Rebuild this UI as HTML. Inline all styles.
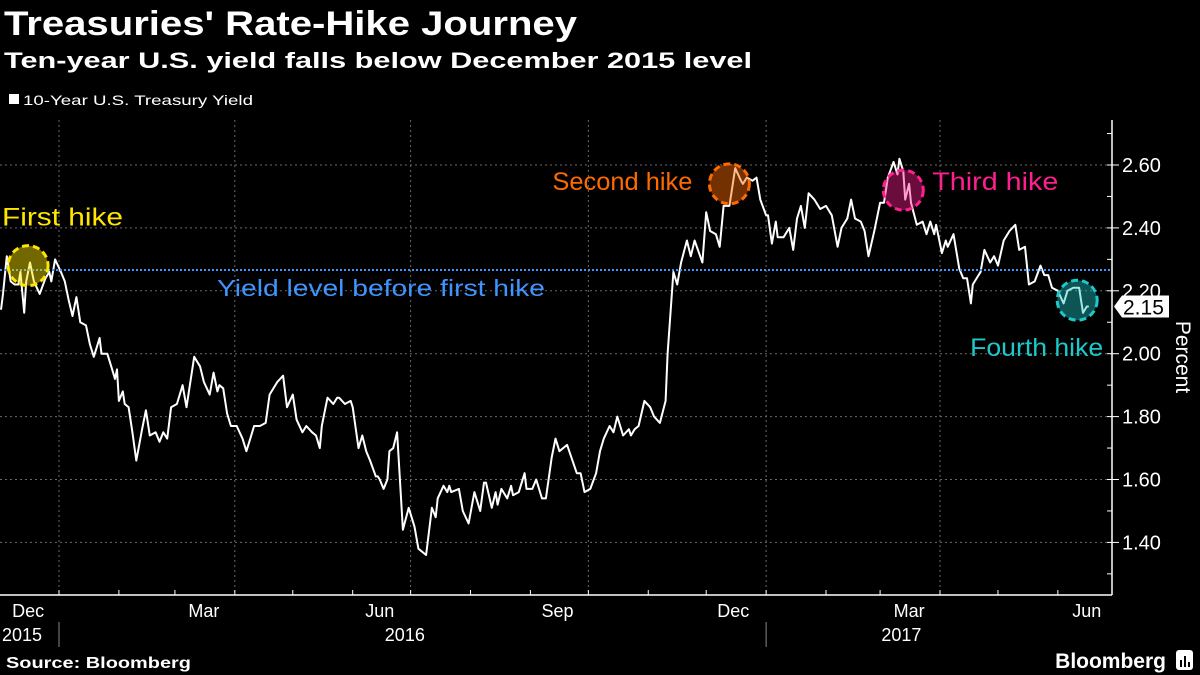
<!DOCTYPE html>
<html><head><meta charset="utf-8">
<style>
html,body{margin:0;padding:0;background:#000;width:1200px;height:675px;overflow:hidden;font-family:"Liberation Sans","DejaVu Sans",sans-serif;}
svg{display:block}
</style></head>
<body>
<svg id="chart" width="1200" height="675" viewBox="0 0 1200 675">
<text x="4" y="35" fill="#fff" font-size="34" font-weight="bold" textLength="573" lengthAdjust="spacingAndGlyphs">Treasuries' Rate-Hike Journey</text>
<text x="4" y="68" fill="#fff" font-size="22" font-weight="bold" textLength="748" lengthAdjust="spacingAndGlyphs">Ten-year U.S. yield falls below December 2015 level</text>
<g>
<rect x="9" y="94" width="10" height="10" fill="#fff"></rect>
<text x="23" y="105" fill="#fff" font-size="14" textLength="230" lengthAdjust="spacingAndGlyphs">10-Year U.S. Treasury Yield</text>
</g>
<g id="grid"></g>
<g id="axes"></g>
<g id="marks"></g>
<g id="annot"></g>
<text x="6" y="668" fill="#fff" font-size="16" font-weight="bold" textLength="185" lengthAdjust="spacingAndGlyphs">Source: Bloomberg</text>
<text x="1166" y="668" fill="#fff" font-size="21" font-weight="bold" text-anchor="end">Bloomberg</text>
<g><rect x="1176" y="650" width="17" height="20" rx="3" fill="#fff"></rect><rect x="1180" y="660" width="2" height="7" fill="#000"></rect><rect x="1184" y="656" width="2" height="11" fill="#000"></rect><rect x="1188" y="662" width="2" height="5" fill="#000"></rect></g>
</svg>
<script>
// days since 2015-12-01
const days = [1,2,4,6,8,10,11,13,14,16,18,21,24,26,27,29,32,34,36,38,40,42,45,47,49,52,53,56,58,60,61,62,64,65,67,69,71,74,76,78,81,83,85,87,89,92,95,97,101,104,106,109,111,113,114,116,118,120,123,126,128,130,132,135,138,140,144,147,149,152,154,157,159,162,164,166,167,170,173,175,176,179,182,183,186,188,190,192,195,196,
197,199,201,202,204,206,209,212,215,217,219,221,224,226,227,230,232,233,234,238,240,243,246,249,251,252,255,257,258,260,263,265,266,269,272,273,276,278,281,283,286,288,290,294,299,301,303,306,309,311,313,316,318,320,323,326,327,329,331,334,337,339,342,345,346,349,351,353,356,358,360,364,366,368,371,373,375,378,380,381,384,385,387,390,392,
394,397,398,400,402,403,406,409,411,413,415,417,419,422,425,428,431,434,436,439,441,443,446,448,450,453,456,458,460,463,465,466,468,469,471,472,475,478,480,482,484,485,488,490,491,494,497,499,501,503,504,508,510,513,515,517,520,523,526,528,531,533,536,539,541,543,545,548,551,553,556,559,561,563,564];
const yields = [2.14,2.19,2.31,2.23,2.22,2.22,2.26,2.13,2.23,2.29,2.23,2.19,2.24,2.26,2.23,2.30,2.26,2.23,2.17,2.12,2.18,2.10,2.09,2.03,1.99,2.05,2.00,2.00,1.96,1.92,1.95,1.85,1.88,1.84,1.83,1.75,1.66,1.76,1.82,1.74,1.75,1.72,1.75,1.73,1.83,1.84,1.90,1.83,1.99,1.96,1.91,1.87,1.94,1.88,1.90,1.89,1.81,1.77,1.77,1.73,1.69,1.73,1.77,1.77,1.78,1.87,1.91,1.93,1.83,1.87,1.79,1.75,1.77,1.75,1.74,1.70,1.77,1.86,1.84,1.86,1.86,1.84,1.85,1.83,1.70,1.74,1.69,1.66,1.61,1.61,
1.60,1.57,1.60,1.69,1.70,1.75,1.44,1.51,1.45,1.38,1.37,1.36,1.51,1.48,1.54,1.58,1.56,1.58,1.56,1.57,1.50,1.46,1.56,1.50,1.59,1.59,1.51,1.56,1.52,1.57,1.54,1.58,1.55,1.56,1.62,1.57,1.57,1.60,1.54,1.54,1.67,1.73,1.69,1.71,1.62,1.62,1.56,1.57,1.62,1.69,1.73,1.77,1.75,1.80,1.74,1.76,1.74,1.76,1.77,1.85,1.83,1.80,1.78,1.85,2.00,2.26,2.22,2.29,2.36,2.31,2.36,2.29,2.45,2.39,2.38,2.34,2.47,2.47,2.55,2.59,2.55,2.54,2.56,2.55,2.56,
2.49,2.44,2.44,2.35,2.42,2.37,2.37,2.40,2.33,2.43,2.47,2.40,2.51,2.49,2.46,2.47,2.44,2.34,2.40,2.43,2.49,2.43,2.42,2.39,2.31,2.39,2.48,2.48,2.56,2.61,2.57,2.62,2.58,2.49,2.54,2.48,2.41,2.42,2.38,2.42,2.38,2.41,2.32,2.36,2.34,2.38,2.27,2.24,2.24,2.16,2.22,2.26,2.33,2.29,2.31,2.28,2.36,2.39,2.41,2.33,2.34,2.22,2.23,2.28,2.25,2.25,2.21,2.20,2.16,2.20,2.21,2.21,2.13,2.15,2.15];
const yTicks = [1.40,1.60,1.80,2.00,2.20,2.40,2.60];
const monthLabels = ["Dec","Mar","Jun","Sep","Dec","Mar","Jun"];
const monthLabelDays = [15,106,197,289,380,471,563];
const gridDays = [31,122,213,305,397,487];
const yearLabels = ["2015","2016","2017"];
const yearLabelDays = [12,210,467];
const hikeNames = ["First hike","Second hike","Third hike","Fourth hike"];
const hikeDays = [15,378,468,558];
const hikeYields = [2.28,2.54,2.52,2.17];
const preHikeLevel = 2.266;
const lastValue = 2.15;

const NS="http://www.w3.org/2000/svg";
const X0=59, PXD=1.932, Y0=165, PXU=314.5, AXISX=1112, AXISY=595;
const xs=d=>X0+(d-31)*PXD;
const ys=v=>Y0+(2.6-v)*PXU;
function mk(tag,attrs,parent){const e=document.createElementNS(NS,tag);for(const k in attrs)e.setAttribute(k,attrs[k]);parent.appendChild(e);return e;}
const grid=document.getElementById('grid'),axes=document.getElementById('axes'),marks=document.getElementById('marks'),annot=document.getElementById('annot');

yTicks.forEach(v=>{
  const l=mk('line',{x1:0,x2:AXISX,y1:ys(v),y2:ys(v),stroke:'#6a6a6a','stroke-width':1,'stroke-dasharray':'2,3'},grid);
  
  
  const t=mk('text',{x:AXISX+10,y:ys(v)+7,fill:'#fff','font-size':20},axes);
  t.textContent=v.toFixed(2);
  
  
  const tk=mk('line',{x1:AXISX,x2:AXISX+7,y1:ys(v),y2:ys(v),stroke:'#fff','stroke-width':1},axes);
  
  
});
for(let v=1.3;v<2.75;v+=0.1){
  const tk=mk('line',{x1:AXISX-5,x2:AXISX,y1:ys(v),y2:ys(v),stroke:'#fff','stroke-width':1},axes);
  
  
}
gridDays.forEach(d=>{
  const l=mk('line',{x1:xs(d),x2:xs(d),y1:120,y2:AXISY,stroke:'#6a6a6a','stroke-width':1,'stroke-dasharray':'2,3'},grid);
  
  
});
const ax=mk('line',{x1:0,x2:AXISX,y1:AXISY,y2:AXISY,stroke:'#fff','stroke-width':1.5},axes);


const ay=mk('line',{x1:AXISX,x2:AXISX,y1:120,y2:AXISY,stroke:'#fff','stroke-width':1.5},axes);


for(let m=0;m<19;m++){
  const d=[0,31,62,91,122,152,183,213,244,275,305,336,366,397,428,456,487,517,548][m];
  const tk=mk('line',{x1:xs(d),x2:xs(d),y1:AXISY-5,y2:AXISY,stroke:'#fff','stroke-width':1},axes);
  
  
}
monthLabels.forEach((s,i)=>{
  const t=mk('text',{x:xs(monthLabelDays[i]),y:617,fill:'#fff','font-size':18,'text-anchor':'middle'},axes);
  t.textContent=s;
  
  
});
yearLabels.forEach((s,i)=>{
  const t=mk('text',{x:i==0?2:xs(yearLabelDays[i]),y:641,fill:'#fff','font-size':18,'text-anchor':i==0?'start':'middle'},axes);
  t.textContent=s;
  
  
});
[31,397].forEach(d=>{
  const l=mk('line',{x1:xs(d),x2:xs(d),y1:622,y2:647,stroke:'#888','stroke-width':1},axes);
  
  
});
const pt=mk('text',{x:1176,y:357,fill:'#fff','font-size':21,'text-anchor':'middle',transform:'rotate(90 1176 357)'},axes);
pt.textContent='Percent';



// reference line
const ref=mk('line',{x1:0,x2:AXISX,y1:ys(preHikeLevel),y2:ys(preHikeLevel),stroke:'#3e95ff','stroke-width':2,'stroke-dasharray':'2,2'},annot);


const rt=mk('text',{x:217,y:ys(preHikeLevel)+26,fill:'#3e95ff','font-size':23,textLength:328,lengthAdjust:'spacingAndGlyphs'},annot);
rt.textContent='Yield level before first hike';



// line series
const p=mk('path',{d:days.map((d,i)=>(i?'L':'M')+xs(d).toFixed(1)+','+ys(yields[i]).toFixed(1)).join(''),fill:'none',stroke:'#fff','stroke-width':2,'stroke-linejoin':'round'},marks);



// hike markers
const hc=[['#ffe600','rgba(255,230,0,0.45)'],['#ff6a00','rgba(255,106,0,0.45)'],['#ff1f8e','rgba(255,31,142,0.42)'],['#1ec8c8','rgba(30,200,200,0.42)']];
const hw=[121,140,126,133];
hikeNames.forEach((n,i)=>{
  const cx=xs(hikeDays[i]),cy=ys(hikeYields[i]);
  const c=mk('circle',{cx:cx,cy:cy,r:20,fill:hc[i][1],stroke:hc[i][0],'stroke-width':3,'stroke-dasharray':'7,4'},annot);
  
  
  let a={fill:hc[i][0],'font-size':25,textLength:hw[i],lengthAdjust:'spacingAndGlyphs'};
  if(i==0){a.x=2;a.y=cy-40;}
  if(i==1){a.x=cx-177;a.y=cy+6;}
  if(i==2){a.x=cx+29;a.y=cy;}
  if(i==3){a.x=cx-107;a.y=cy+56;}
  const t=mk('text',a,annot);
  t.textContent=n;
  
  
});

// last value tag
const ly=ys(lastValue);
const tag=mk('path',{d:`M${AXISX+2},${ly} L${AXISX+10},${ly-11} L${AXISX+57},${ly-11} L${AXISX+57},${ly+11} L${AXISX+10},${ly+11} Z`,fill:'#fff'},annot);


const lt=mk('text',{x:AXISX+11,y:ly+8,fill:'#000','font-size':21},annot);
lt.textContent=lastValue.toFixed(2);


</script>
</body></html>
